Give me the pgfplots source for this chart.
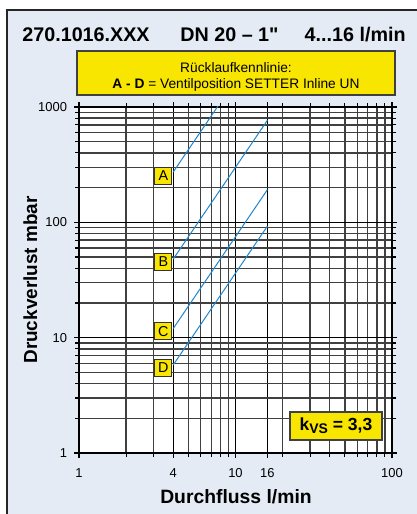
\documentclass[border=0pt]{standalone}
\usepackage{pgfplots}
\pgfplotsset{compat=1.18}
\usepackage{fontspec}
\setmainfont{Liberation Sans}[Ligatures=TeXOff]
\definecolor{bgc}{RGB}{228,235,244}
\definecolor{yel}{RGB}{248,230,0}
\definecolor{lblue}{RGB}{30,135,205}
\tikzset{lab/.style={fill=yel, draw=black!80, line width=0.5bp, inner sep=0, minimum width=8.5bp, minimum height=8.5bp, font=\fontsize{7.2}{8}\selectfont, anchor=east, xshift=-0.4bp}}
\begin{document}
\begin{tikzpicture}
\useasboundingbox (0,0) rectangle (208.5bp,257bp);
\fill[white] (0,0) rectangle (208.5bp,257bp);
\draw[fill=bgc, line width=0.8bp, draw=black!85] (3.5bp,-5bp) rectangle (215bp,252bp);
\node[anchor=base west, font=\fontsize{9.9}{11}\selectfont\bfseries, inner sep=0] at (11bp,236bp) {270.1016.XXX};
\node[anchor=base west, font=\fontsize{9.9}{11}\selectfont\bfseries, inner sep=0] at (90bp,236bp) {DN 20 – 1"};
\node[anchor=base east, font=\fontsize{9.9}{11}\selectfont\bfseries, inner sep=0] at (203bp,236bp) {4...16 l/min};
\draw[fill=yel, draw=black!75, line width=0.6bp] (38.5bp,209.5bp) rectangle (197.5bp,231.5bp);
\node[anchor=base, font=\fontsize{6.9}{8}\selectfont, inner sep=0] at (118bp,220.75bp) {Rücklaufkennlinie:};
\node[anchor=base, font=\fontsize{6.9}{8}\selectfont, inner sep=0] at (118bp,212.5bp) {\textbf{A - D} = Ventilposition SETTER Inline UN};
\begin{axis}[at={(39.5bp,30.5bp)}, anchor=south west, scale only axis,
  width=156.5bp, height=173bp,
  xmode=log, ymode=log, xmin=1, xmax=100, ymin=1, ymax=1000,
  xtick={1,4,10,16,100}, xticklabels={1,4,10,16,100},
  minor xtick={2,3,5,6,7,8,9,20,30,40,50,60,70,80,90},
  ytick={1,10,100,1000}, yticklabels={1,10,100,1000},
  minor ytick={2,3,4,5,6,7,8,9,20,30,40,50,60,70,80,90,200,300,400,500,600,700,800,900},
  grid=both,
  major grid style={black, line width=0.7bp},
  minor grid style={black!75, line width=0.7bp},
  axis line style={black, line width=0.8bp},
  tick align=outside, major tick length=2.5bp, minor tick length=2bp,
  tick style={black, line width=0.6bp},
  ticklabel style={font=\fontsize{6.5}{7}\selectfont},
  xticklabel style={yshift=-1.8bp},
  /pgf/number format/assume math mode=true,
  axis background/.style={fill=white},
]
\addplot[lblue, line width=0.5bp] coordinates {(4,273) (16,4368)};
\addplot[lblue, line width=0.5bp] coordinates {(4,48) (16,768)};
\addplot[lblue, line width=0.5bp] coordinates {(4,12) (16,192)};
\addplot[lblue, line width=0.5bp] coordinates {(4,5.8) (16,92.8)};
\node[lab] at (axis cs:4,252) {A};
\node[lab] at (axis cs:4,45.3) {B};
\node[lab] at (axis cs:4,11.4) {C};
\node[lab] at (axis cs:4,5.46) {D};
\end{axis}
\node[rotate=90, anchor=base, font=\fontsize{9.5}{11}\selectfont\bfseries, inner sep=0] at (18.5bp,117bp) {Druckverlust mbar};
\node[anchor=base, font=\fontsize{9.7}{11}\selectfont\bfseries, inner sep=0] at (118bp,5.5bp) {Durchfluss l/min};
\node[fill=yel, draw=black!75, line width=0.6bp, minimum width=46bp, minimum height=14bp, inner sep=0, font=\fontsize{8.8}{10}\selectfont\bfseries] at (168bp,44bp) {k\raisebox{-0.35ex}{\fontsize{7}{8}\selectfont VS} = 3,3};
\end{tikzpicture}
\end{document}
